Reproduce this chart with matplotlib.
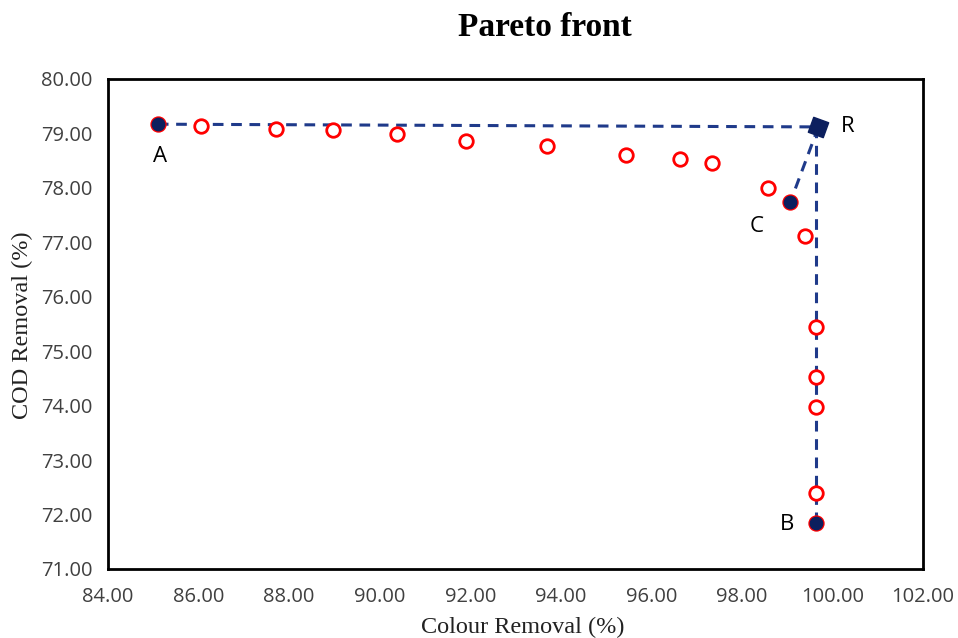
import matplotlib
matplotlib.use("Agg")
import matplotlib.pyplot as plt

# Data
front_x = [85.10, 86.06, 87.72, 88.98, 90.39, 91.90, 93.69, 95.44, 96.63, 97.34,
           98.58, 99.07, 99.40, 99.64, 99.64, 99.64, 99.64, 99.64]
front_y = [79.17, 79.14, 79.08, 79.07, 78.99, 78.86, 78.77, 78.60, 78.53, 78.46,
           78.00, 77.74, 77.11, 75.44, 74.52, 73.97, 72.39, 71.84]
label_names = ["A", "B", "C"]
label_x = [85.10, 99.64, 99.07]
label_y = [79.17, 71.84, 77.74]
ref_x = 99.69
ref_y = 79.12
x_ticks = [84, 86, 88, 90, 92, 94, 96, 98, 100, 102]
y_ticks = [71, 72, 73, 74, 75, 76, 77, 78, 79, 80]

navy = "#0c1f5e"
dash = "#1f3a8a"

fig = plt.figure(figsize=(9.58, 6.38), dpi=100)
ax = fig.add_axes([108/958, 1-569/638, (923-108)/958, (569-79)/638])

ls = (0, (3.5, 2.5))
ax.plot([label_x[0], ref_x], [label_y[0], ref_y], ls=ls, color=dash, lw=2.2, zorder=1)
ax.plot([ref_x, label_x[2]], [ref_y, label_y[2]], ls=ls, color=dash, lw=2.2, zorder=1)
ax.plot([label_x[1], label_x[1]], [ref_y, label_y[1]], ls=ls, color=dash, lw=2.2, zorder=1)

ax.scatter(front_x, front_y, s=95, facecolors="white", edgecolors="#ff0000", linewidths=2.0, zorder=2)
ax.scatter(label_x, label_y, s=80, color=navy, zorder=3)
ax.scatter([ref_x], [ref_y], s=260, marker=(4, 0, 25), color=navy, zorder=4)

offsets = {"A": (0.05, -0.6), "B": (-0.65, -0.03), "C": (-0.75, -0.45)}
for n, xx, yy in zip(label_names, label_x, label_y):
    dx, dy = offsets[n]
    ax.text(xx + dx, yy + dy, n, fontsize=16, family="Open Sans", ha="center", va="center", color="black")
ax.text(ref_x + 0.65, ref_y, "R", fontsize=16, family="Open Sans", ha="center", va="center", color="black")

ax.set_xlim(84, 102)
ax.set_ylim(71, 80)
ax.set_xticks(x_ticks)
ax.set_yticks(y_ticks)
ax.set_xticklabels([f"{v:.2f}" for v in x_ticks])
ax.set_yticklabels([f"{v:.2f}" for v in y_ticks])
ax.tick_params(length=0, labelsize=14.5, colors="#404040")
ax.tick_params(axis="x", pad=13)
ax.tick_params(axis="y", pad=11)
for lab in ax.get_xticklabels() + ax.get_yticklabels():
    lab.set_family("Open Sans")
for sp in ax.spines.values():
    sp.set_linewidth(2)
    sp.set_color("black")

fig.text(545/958, 1-27/638, "Pareto front", fontsize=24, fontweight="bold",
         family="Liberation Serif", ha="center", va="center")
fig.text(523/958, 1-627/638, "Colour Removal (%)", fontsize=17.5, family="Liberation Serif",
         ha="center", va="center", color="#222222")
fig.text(22/958, 1-325/638, "COD Removal (%)", fontsize=17.5, family="Liberation Serif",
         ha="center", va="center", rotation=90, color="#222222")

fig.savefig("out.png", dpi=100)
